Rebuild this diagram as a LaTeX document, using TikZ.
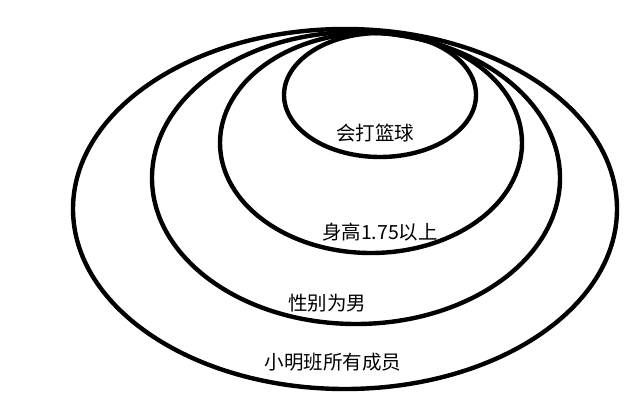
\documentclass[tikz,border=0pt]{standalone}
\usepackage{fontspec}
\newfontfamily\cjk{Noto Sans CJK SC}
\begin{document}
\begin{tikzpicture}[x=1pt,y=-1pt,
  ring/.style={draw=black,line width=4.4pt},
  lbl/.style={font=\cjk\fontsize{19.5pt}{22pt}\selectfont,inner sep=0pt,text=black}]
\useasboundingbox (0,0) rectangle (640,417);
\draw[ring] (345,209) ellipse [x radius=272pt,y radius=180pt];
\draw[ring] (356,178) ellipse [x radius=204pt,y radius=146pt];
\draw[ring] (371,143) ellipse [x radius=151pt,y radius=110pt];
\draw[ring] (380,95) ellipse [x radius=96pt,y radius=62pt];
\node[lbl] (a) at (375,133) {会打篮球};
\node[lbl] (b) at (380,232) {身高1.75以上};
\node[lbl] (c) at (327,303) {性别为男};
\node[lbl] (d) at (333,362) {小明班所有成员};
\end{tikzpicture}
\end{document}
